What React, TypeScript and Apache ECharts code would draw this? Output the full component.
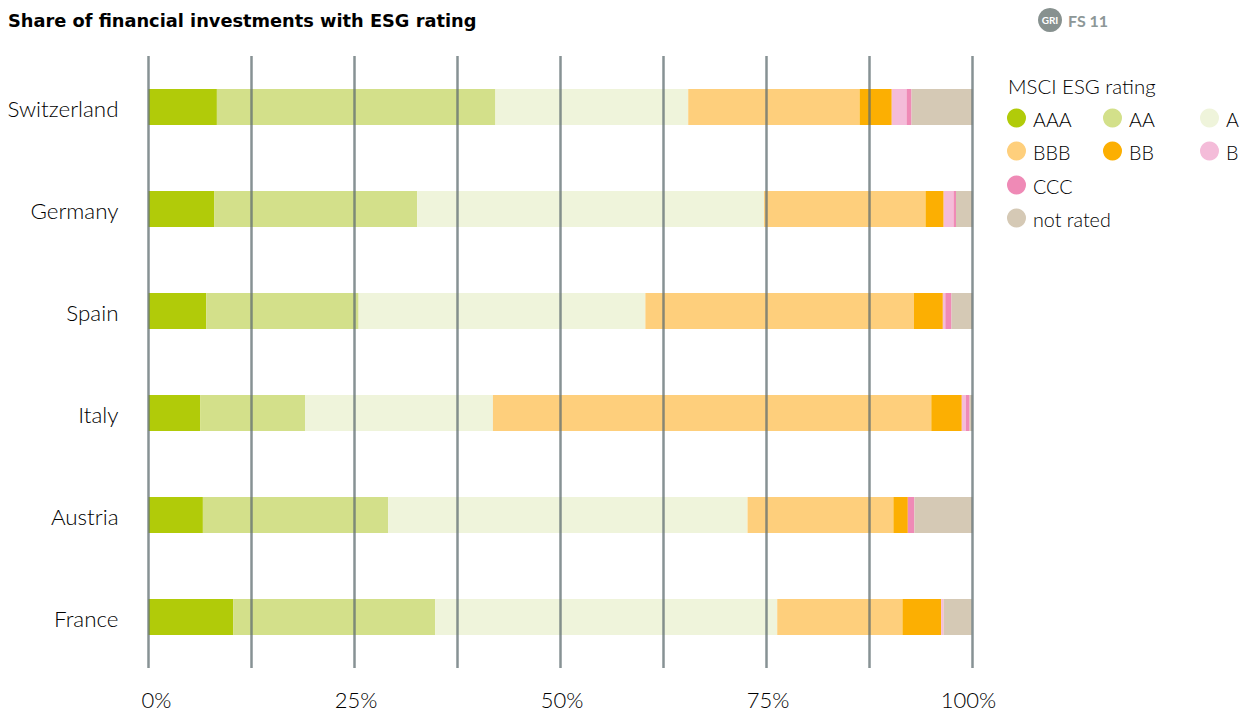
import React, { useEffect, useRef } from "react";
import * as echarts from "echarts";

const countries = ["Switzerland", "Germany", "Spain", "Italy", "Austria", "France"];
const ratings = ["AAA", "AA", "A", "BBB", "BB", "B", "CCC", "not rated"];
const colors = ["#b1cb09", "#d3e08a", "#eff4db", "#fecf7c", "#fcaf02", "#f4bcd9", "#ef8ab6", "#d5c9b5"];

const aaa = [8.3, 8.0, 7.0, 6.3, 6.6, 10.3];
const aa = [33.8, 24.6, 18.5, 12.7, 22.5, 24.5];
const a = [23.4, 42.1, 34.8, 22.8, 43.6, 41.5];
const bbb = [20.8, 19.6, 32.6, 53.2, 17.7, 15.2];
const bb = [3.9, 2.2, 3.5, 3.7, 1.75, 4.7];
const b = [1.8, 1.2, 0.3, 0.5, 0, 0.3];
const ccc = [0.6, 0.3, 0.75, 0.45, 0.8, 0];
const notRated = [7.4, 2.0, 2.55, 0.35, 7.05, 3.4];
const values = [aaa, aa, a, bbb, bb, b, ccc, notRated];

const tickValues = [0, 25, 50, 75, 100];
const legendCols = [1007, 1103, 1200];
const legendRows = [118, 151, 185, 218];
const legendSlots = [[0, 0], [1, 0], [2, 0], [0, 1], [1, 1], [2, 1], [0, 2], [0, 3]];

const FONT = "Lato";
const INK = "#000000";

export default function App() {
  const ref = useRef<HTMLDivElement>(null);
  useEffect(() => {
    document.body.style.margin = "0";
    const chart = echarts.init(ref.current!, undefined, { renderer: "svg" });
    const xRich = { fontSize: 22, fontWeight: 300, fontFamily: FONT, color: INK };
    chart.setOption({
      animation: false,
      backgroundColor: "#ffffff",
      textStyle: { fontFamily: FONT },
      grid: { left: 148.5, top: 56, width: 824, height: 612, containLabel: false },
      xAxis: {
        type: "value",
        min: 0,
        max: 100,
        interval: 12.5,
        z: 10,
        axisLine: { show: false },
        axisTick: { show: false },
        splitLine: { show: true, lineStyle: { color: "#5f6e70", width: 2.5, opacity: 0.75 } },
        axisLabel: {
          margin: 20,
          color: INK,
          fontSize: 22,
          fontWeight: 300,
          fontFamily: FONT,
          showMinLabel: true,
          showMaxLabel: true,
          hideOverlap: false,
          formatter: (v: number) => {
            if (!tickValues.includes(v)) return "";
            if (v === 0) return `{first|${v}%}`;
            if (v === 100) return `{last|${v}%}`;
            return `{mid|${v}%}`;
          },
          rich: {
            first: { ...xRich, padding: [0, 0, 0, 16] },
            mid: { ...xRich, padding: [0, 0, 0, 3] },
            last: { ...xRich, padding: [0, 8, 0, 0] },
          },
        },
      },
      yAxis: {
        type: "category",
        inverse: true,
        data: countries,
        axisLine: { show: false },
        axisTick: { show: false },
        splitLine: { show: false },
        axisLabel: {
          margin: 30,
          formatter: (v: string) => `{c|${v}}`,
          rich: { c: { color: INK, fontSize: 22.4, fontWeight: 300, fontFamily: FONT, padding: [3, 0, 0, 0] } },
        },
      },
      title: [
        { text: "Share of financial investments with ESG rating", left: 8, top: 11, padding: 0,
          textStyle: { fontFamily: "DejaVu Sans", fontSize: 17.8, fontWeight: 700, color: "#000000" } },
        { text: "MSCI ESG rating", left: 1008, top: 76, padding: 0,
          textStyle: { fontFamily: FONT, fontSize: 20.4, fontWeight: 300, color: INK } },
      ],
      legend: ratings.map((name, i) => ({
        data: [name],
        left: legendCols[legendSlots[i][0]],
        top: legendRows[legendSlots[i][1]] - 9.5,
        padding: 0,
        icon: "circle",
        itemWidth: 19,
        itemHeight: 19,
        itemGap: 0,
        selectedMode: false,
        formatter: (n: string) => `{t|${n}}`,
        textStyle: {
          rich: { t: { fontFamily: FONT, fontSize: 19.7, fontWeight: 300, color: INK, padding: [3, 0, 0, 2] } },
        },
      })),
      graphic: [
        { type: "circle", shape: { cx: 1050, cy: 20, r: 12 }, style: { fill: "#87918f" } },
        { type: "text", x: 1050, y: 20, style: { text: "GRI", fill: "#ffffff", font: `700 10px ${FONT}`, align: "center", verticalAlign: "middle" } },
        { type: "text", x: 1068, y: 20, style: { text: "FS 11", fill: "#8d9797", font: `700 16px ${FONT}`, align: "left", verticalAlign: "middle" } },
      ],
      series: ratings.map((name, i) => ({
        name,
        type: "bar",
        stack: "total",
        barWidth: 36,
        data: values[i],
        itemStyle: { color: colors[i] },
      })),
    });
    return () => chart.dispose();
  }, []);
  return <div ref={ref} style={{ position: "absolute", left: 0, top: 0, width: 1254, height: 713 }} />;
}
